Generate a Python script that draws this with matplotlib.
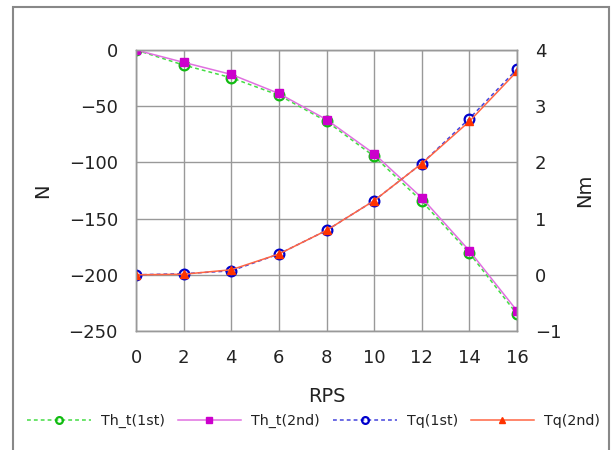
import matplotlib
matplotlib.use("Agg")
import matplotlib.pyplot as plt
from matplotlib.patches import Rectangle

rps = [0, 2, 4, 6, 8, 10, 12, 14, 16]
th_t_1st = [0, -13.4, -24.7, -40.2, -63.4, -94.6, -134.5, -180.7, -235]
th_t_2nd = [0, -11.0, -21.7, -38.7, -61.9, -92.3, -131.5, -178.6, -232]
tq_1st = [0, 0.02, 0.07, 0.37, 0.79, 1.32, 1.98, 2.78, 3.66]
tq_2nd = [0, 0.01, 0.09, 0.37, 0.79, 1.32, 1.98, 2.73, 3.62]

x_ticks = [0, 2, 4, 6, 8, 10, 12, 14, 16]
left_ticks = [0, -50, -100, -150, -200, -250]
right_ticks = [4, 3, 2, 1, 0, -1]

plt.rcParams['font.family'] = ['DejaVu Sans']
txt = '#222222'

fig = plt.figure(figsize=(6.14, 4.5), dpi=100)
fig.patches.append(Rectangle((13/614, -0.1), (609-13)/614, 1.1 - 7/450,
                             transform=fig.transFigure, fill=False,
                             edgecolor='#888888', linewidth=1.5))

ax = fig.add_axes([136/614, (450-331)/450, (517-136)/614, (331-50)/450])
ax2 = ax.twinx()

l1, = ax.plot(rps, th_t_1st, linestyle=(0, (2.5, 2)), color='#44dd44', lw=1.1,
              marker='o', ms=7, mfc='none', mec='#11bb11', mew=1.6, label='Th_t(1st)')
l2, = ax.plot(rps, th_t_2nd, linestyle='-', color='#e070e0', lw=1.1,
              marker='s', ms=5.5, mfc='#cc00cc', mec='#cc00cc', label='Th_t(2nd)')
l3, = ax2.plot(rps, tq_1st, linestyle=(0, (2.5, 2)), color='#4444dd', lw=1.1,
               marker='o', ms=7, mfc='none', mec='#0000cc', mew=1.6, label='Tq(1st)')
l4, = ax2.plot(rps, tq_2nd, linestyle='-', color='#ff6644', lw=1.1,
               marker='^', ms=6, mfc='#ff3300', mec='#ff3300', label='Tq(2nd)')

ax.set_xlim(0, 16)
ax.set_ylim(-250, 0)
ax2.set_ylim(-1, 4)
ax.set_xticks(x_ticks)
ax.set_yticks(left_ticks)
ax2.set_yticks(right_ticks)
ax.grid(True, color='#999999', linewidth=1)
ax.set_axisbelow(True)
for a in (ax, ax2):
    for s in a.spines.values():
        s.set_color('#999999')
        s.set_linewidth(1)
ax.tick_params(axis='both', length=0, labelsize=13, labelcolor=txt)
ax.tick_params(axis='y', pad=13)
ax.tick_params(axis='x', pad=13)
ax2.tick_params(axis='y', length=0, labelsize=13, labelcolor=txt, pad=13)

ax.set_xlabel('RPS', fontsize=14, color=txt, labelpad=14)
ax.set_ylabel('N', fontsize=14, color=txt, labelpad=12)
ax2.set_ylabel('Nm', fontsize=14, color=txt, labelpad=10)

fig.legend(handles=[l1, l2, l3, l4], loc='center left',
           bbox_to_anchor=(27/614, 1 - 421/450), ncol=4, frameon=False,
           fontsize=10.3, handlelength=4.45, handletextpad=0.7,
           columnspacing=0.9, borderpad=0, borderaxespad=0,
           labelcolor=txt, markerscale=0.7)

fig.savefig('out.png', dpi=100)
